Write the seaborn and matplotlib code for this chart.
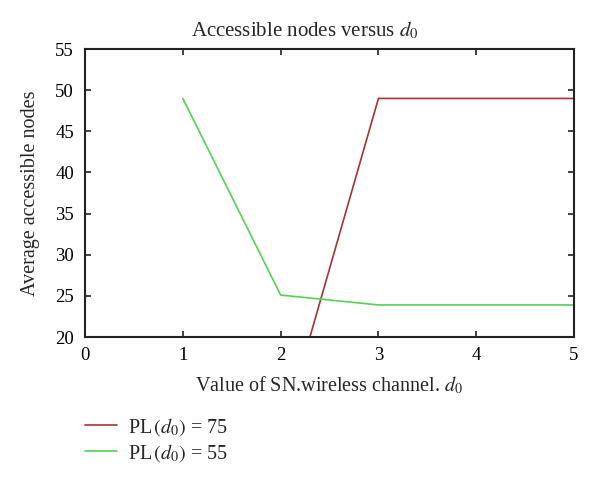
import pandas as pd
import matplotlib
matplotlib.use("Agg")
import matplotlib.pyplot as plt
import seaborn as sns

# values
x_red = [2, 3, 4, 5]
y_red = [7.6, 49, 49, 49]
x_green = [1, 2, 3, 4, 5]
y_green = [49, 25.1, 23.9, 23.9, 23.9]
labels = [r"PL$\,(d_0)$ = 75", r"PL$\,(d_0)$ = 55"]
colors = ["#a83232", "#55d155"]

df = pd.concat([
    pd.DataFrame({"x": x_red, "y": y_red, "series": labels[0]}),
    pd.DataFrame({"x": x_green, "y": y_green, "series": labels[1]}),
])

sns.set_style("ticks")
plt.rcParams["font.family"] = ["Liberation Serif", "DejaVu Serif"]
plt.rcParams["mathtext.fontset"] = "stix"

fig = plt.figure(figsize=(6, 4.88), dpi=100)
ax = fig.add_axes([0.1417, 0.3094, 0.815, 0.590])

sns.lineplot(data=df, x="x", y="y", hue="series", palette=colors,
             linewidth=1.2, ax=ax, legend=False, sort=False)

ax.set_xlim(0, 5)
ax.set_ylim(20, 55)
ax.set_xticks(range(0, 6))
ax.set_yticks(range(20, 56, 5))
ax.tick_params(direction="in", top=True, right=True, labelsize=13.5,
               length=4, width=1.2, colors="#222222", labelcolor="black")
ax.tick_params(axis="x", pad=7)
ax.tick_params(axis="y", pad=8)
for s in ax.spines.values():
    s.set_linewidth(1.5)
    s.set_color("#222222")

# title sits a little left of the axes centre in the reference
fig.text(305 / 600, 1 - 30 / 488, r"Accessible nodes versus $d_0$",
         fontsize=15, ha="center", va="center")
ax.set_xlabel(r"Value of SN.wireless channel. $d_0$", fontsize=14.5, labelpad=8)
ax.set_ylabel("Average accessible nodes", fontsize=14.5, labelpad=11)

handles = [plt.Line2D([], [], color=c, lw=1.2) for c in colors]
fig.legend(handles, labels, loc="upper left", bbox_to_anchor=(0.1417, 0.148),
           frameon=False, fontsize=14.5, handlelength=1.6, labelspacing=0.2,
           handletextpad=0.55, borderaxespad=0, borderpad=0)

fig.savefig("out.png", dpi=100)
